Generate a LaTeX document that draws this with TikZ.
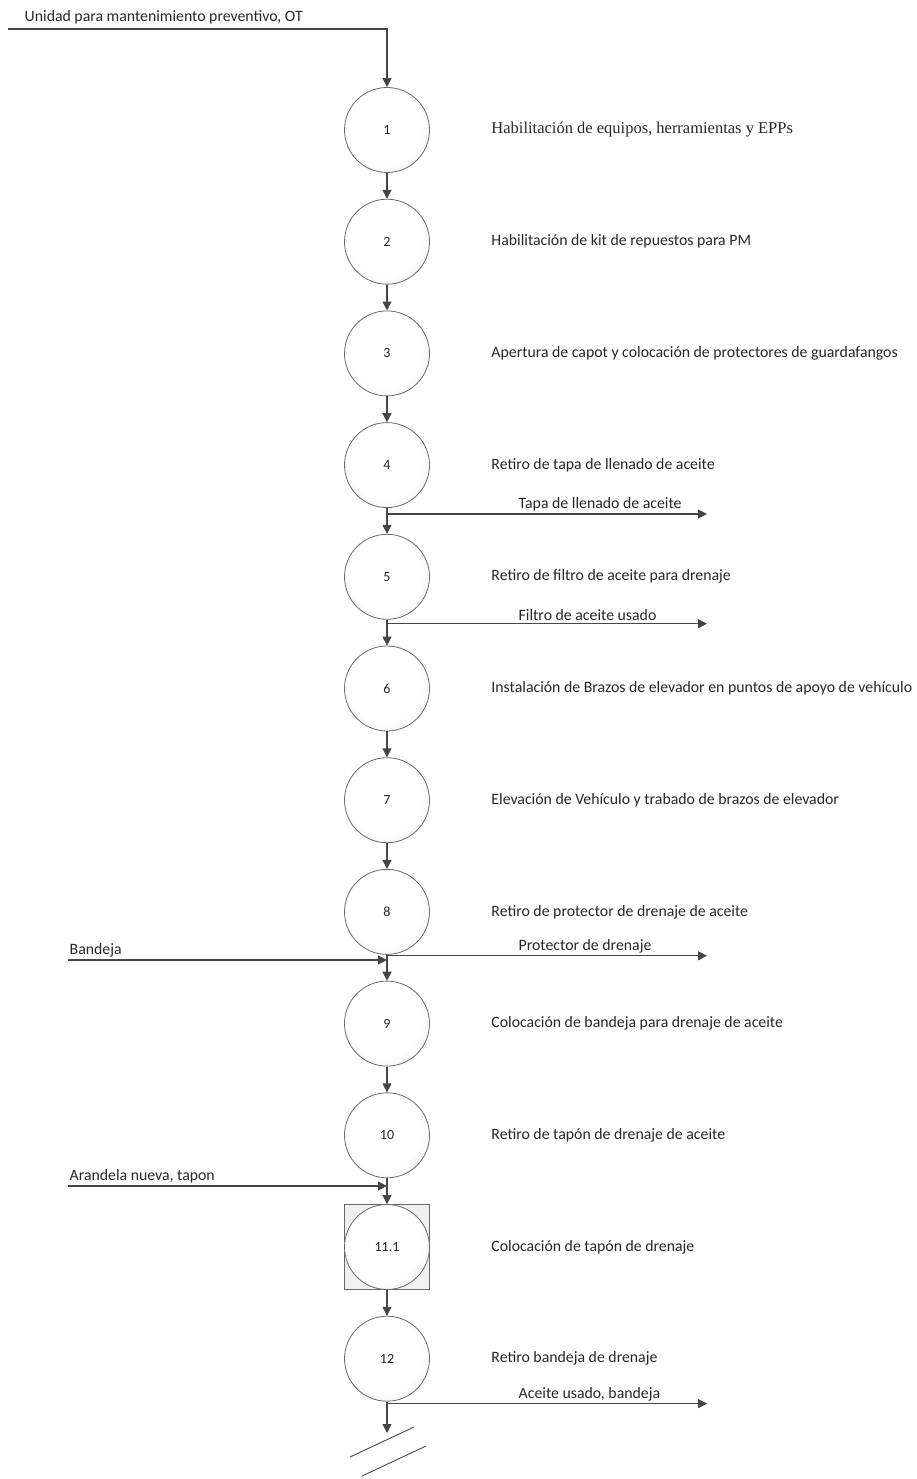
\documentclass[tikz,border=0pt]{standalone}
\usepackage{fontspec}
\setmainfont{Carlito}
\newfontfamily\serifdesc{Liberation Serif}
\usetikzlibrary{arrows.meta}
\usetikzlibrary{positioning}
\usetikzlibrary{calc}
\definecolor{linegray}{RGB}{70,70,70}
\definecolor{rimgray}{RGB}{105,105,105}
\definecolor{shadegray}{RGB}{208,208,208}
\definecolor{boxgray}{RGB}{240,240,240}
\pgfdeclareradialshading{opshade}{\pgfpoint{-3bp}{4bp}}{color(0bp)=(white); color(22bp)=(white); color(50bp)=(shadegray)}
\newcommand{\opsize}{85pt}
\newcommand{\descgap}{58pt}
\tikzset{
    common/.style={font=\fontsize{15.8}{18}\selectfont, text=black!85},
    op/.style={font=\fontsize{14}{16}\selectfont, text=black!85, draw=rimgray, thick, circle, minimum size=\opsize, inner sep=0pt, shading=opshade},
    insp/.style={draw=rimgray, thick, rectangle, minimum size=\opsize, fill=boxgray},
    desc/.style={common, anchor=west},
    matl/.style={common, anchor=south west, inner sep=1.5pt},
    flow/.style={draw=linegray, line width=1.2pt, -{Triangle[length=9pt,width=9pt]}},
    slash/.style={draw=linegray, line width=0.9pt}
}

\begin{document}
\begin{tikzpicture}[x=1pt,y=-1pt]
    \useasboundingbox (0,0) rectangle (916,1479);

    % inspection box behind 11.1
    \node[insp] (box11) at (387,1247) {};

    % operations and their texts
    \foreach \n/\lab/\txt [count=\i] in {
        1/1/{\serifdesc\fontsize{16.5}{18}\selectfont Habilitación de equipos, herramientas y EPPs},
        2/2/{Habilitación de kit de repuestos para PM},
        3/3/{Apertura de capot y colocación de protectores de guardafangos},
        4/4/{Retiro de tapa de llenado de aceite},
        5/5/{Retiro de filtro de aceite para drenaje},
        6/6/{Instalación de Brazos de elevador en puntos de apoyo de vehículo},
        7/7/{Elevación de Vehículo y trabado de brazos de elevador},
        8/8/{Retiro de protector de drenaje de aceite},
        9/9/{Colocación de bandeja para drenaje de aceite},
        10/10/{Retiro de tapón de drenaje de aceite},
        11/11.1/{Colocación de tapón de drenaje},
        12/12/{Retiro bandeja de drenaje}}
    {
        \node[op] (op\n) at (387,{130+(\i-1)*111.7}) {\lab};
        \node[desc, right=\descgap of op\n] (desc\n) {\txt};
    }

    % main line
    \foreach \a/\b in {1/2,2/3,3/4,4/5,5/6,6/7,7/8,8/9,9/10,10/11,11/12}
        \draw[flow] (op\a) -- (op\b);

    % entry
    \coordinate (src1) at (8,29);
    \draw[flow] (src1) -| (op1);
    \node[matl] (in1) at (src1) [xshift=15pt, yshift=3pt] {Unidad para mantenimiento preventivo, OT};

    % outputs
    \foreach \n/\dy/\txt in {4/6/{Tapa de llenado de aceite},
                             5/4/{Filtro de aceite usado},
                             8/1/{Protector de drenaje},
                             12/2/{Aceite usado, bandeja}}
    {
        \coordinate (out\n) at ($(op\n.south)+(0,\dy)$);
        \coordinate (end\n) at ($(out\n)+(320,0)$);
        \draw[flow] (out\n) -- (end\n);
        \node[matl] (lbl\n) at ($(out\n)+(130,-1)$) {\txt};
    }

    % inputs
    \coordinate (src9) at (68,960);
    \coordinate (join9) at (387,960);
    \draw[flow] (src9) -- (join9);
    \node[matl] (in9) at (src9) [yshift=1pt] {Bandeja};

    \coordinate (src11) at (68,1186);
    \coordinate (join11) at (387,1186);
    \draw[flow] (src11) -- (join11);
    \node[matl] (in11) at (src11) [yshift=1pt] {Arandela nueva, tapon};

    % end of chart
    \coordinate (stop) at (387,1433);
    \draw[flow] (op12) -- (stop);
    \draw[slash] (350,1457) -- (414,1427);
    \draw[slash] (362,1476) -- (426,1446);
\end{tikzpicture}
\end{document}
